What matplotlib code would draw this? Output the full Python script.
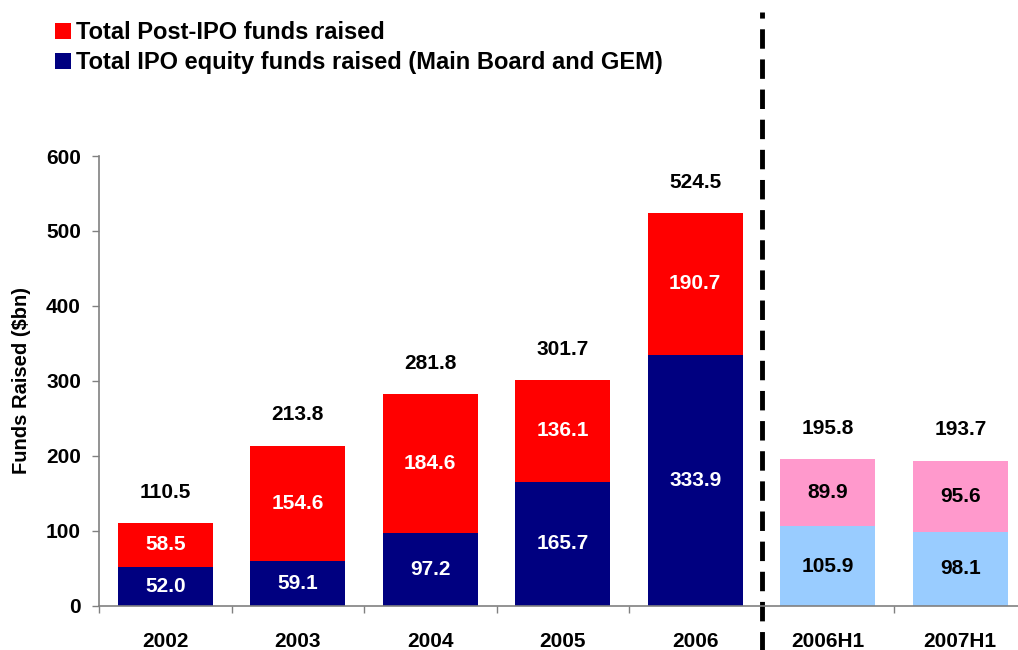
import matplotlib
matplotlib.use("Agg")
import matplotlib.pyplot as plt
from matplotlib.patches import Patch
from matplotlib.lines import Line2D
import numpy as np

plt.rcParams['font.family'] = ['Liberation Sans', 'DejaVu Sans']
plt.rcParams['font.weight'] = 'bold'

categories = ["2002", "2003", "2004", "2005", "2006", "2006H1", "2007H1"]
ipo_funds = [52.0, 59.1, 97.2, 165.7, 333.9, 105.9, 98.1]
post_ipo_funds = [58.5, 154.6, 184.6, 136.1, 190.7, 89.9, 95.6]
totals = [110.5, 213.8, 281.8, 301.7, 524.5, 195.8, 193.7]
legend_labels = ["Total Post-IPO funds raised",
                 "Total IPO equity funds raised (Main Board and GEM)"]
yticks = [0, 100, 200, 300, 400, 500, 600]

n_full = 5
ipo_colors = ["#000080"] * n_full + ["#99CCFF"] * (len(categories) - n_full)
post_colors = ["#FF0000"] * n_full + ["#FF99CC"] * (len(categories) - n_full)
in_text_colors = ["white"] * n_full + ["black"] * (len(categories) - n_full)

fig = plt.figure(figsize=(10.18, 6.5), dpi=100)
ax = fig.add_axes([99/1018, 44.3/650, 927.5/1018, 449.7/650])

x = np.arange(len(categories))
w = 0.72
ax.bar(x, ipo_funds, width=w, color=ipo_colors, linewidth=0)
ax.bar(x, post_ipo_funds, width=w, bottom=ipo_funds, color=post_colors, linewidth=0)

fs = 15
for i in range(len(categories)):
    ax.text(x[i], ipo_funds[i] / 2, f"{ipo_funds[i]:.1f}", ha='center', va='center',
            color=in_text_colors[i], fontsize=fs, fontweight='bold')
    ax.text(x[i], ipo_funds[i] + post_ipo_funds[i] / 2, f"{post_ipo_funds[i]:.1f}",
            ha='center', va='center', color=in_text_colors[i], fontsize=fs, fontweight='bold')
    ax.annotate(f"{totals[i]:.1f}", (x[i], totals[i]), xytext=(0, 22), textcoords='offset points',
                ha='center', va='center', color='black', fontsize=fs, fontweight='bold')

ax.set_xlim(-0.5, len(categories) - 0.5)
ax.set_ylim(0, 600)
ax.set_yticks(yticks)
ax.set_yticklabels([str(v) for v in yticks], fontsize=fs, fontweight='bold')
ax.set_xticks(np.arange(-0.5, len(categories), 1))
ax.set_xticklabels([])
ax.set_xticks(x, minor=True)
ax.set_xticklabels(categories, minor=True, fontsize=fs, fontweight='bold')
ax.tick_params(axis='x', which='minor', length=0, pad=19)
ax.tick_params(axis='x', which='major', length=5, width=1, color='#808080', direction='out')
ax.tick_params(axis='y', length=5, width=1, color='#808080', direction='out', pad=8)
for s in ['top', 'right']:
    ax.spines[s].set_visible(False)
for s in ['left', 'bottom']:
    ax.spines[s].set_color('#808080')
    ax.spines[s].set_linewidth(1.2)

ax.set_ylabel("Funds Raised ($bn)", fontsize=14.5, fontweight='bold', labelpad=11)

# dashed separator between annual and half-year data
sep = ax.get_xaxis_transform()
ax.add_line(Line2D([n_full - 0.5, n_full - 0.5], [-0.1, 1.32], transform=sep, color='black',
                   linewidth=3.5, linestyle=(0, (4, 2.2)), clip_on=False))

handles = [Patch(facecolor="#FF0000"), Patch(facecolor="#000080")]
fig.legend(handles, legend_labels, loc='upper left', bbox_to_anchor=(55/1018, 1 - 21/650),
           frameon=False, handlelength=0.66, handleheight=0.66, handletextpad=0.25,
           labelspacing=0.3, borderaxespad=0, borderpad=0,
           prop={'weight': 'bold', 'size': 17})

fig.savefig("out.png", dpi=100)
